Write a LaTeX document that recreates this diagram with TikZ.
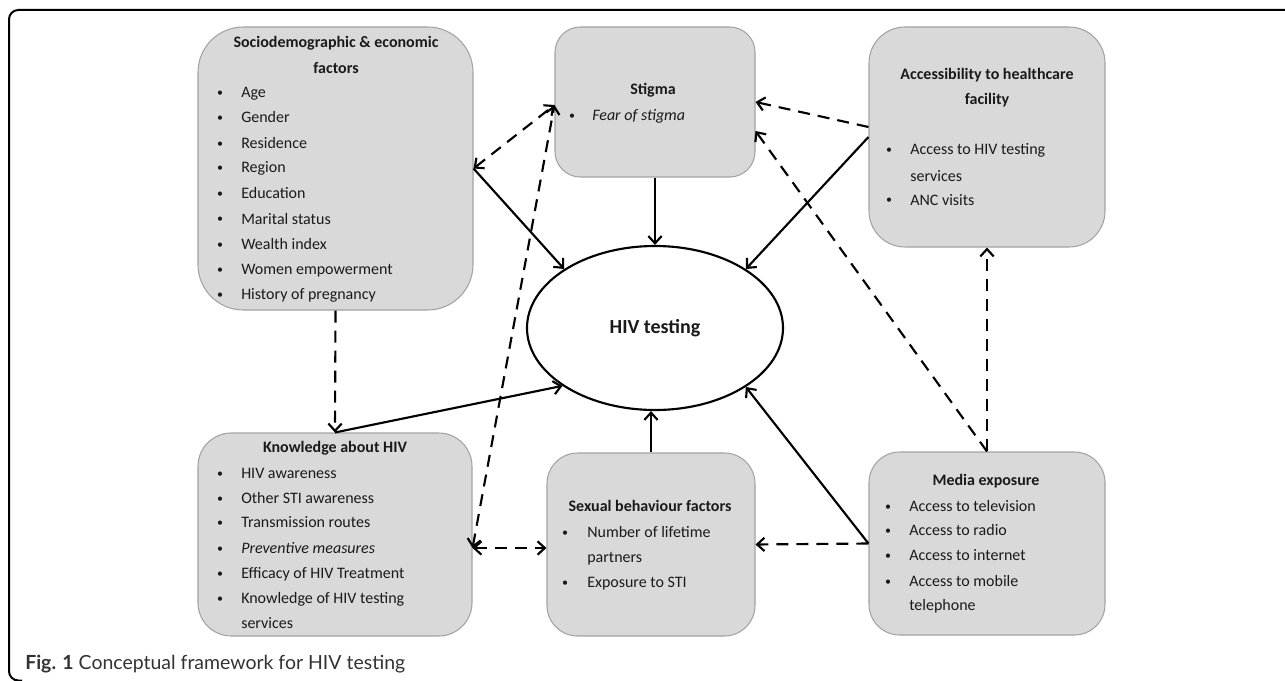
\documentclass[tikz,border=0pt]{standalone}
\usepackage{fontspec}
\setmainfont{Carlito}
\newfontfamily\capfont{Lato}
\usetikzlibrary{arrows.meta,calc,shapes.geometric}
\definecolor{boxfill}{HTML}{D9D9D9}
\definecolor{boxdraw}{HTML}{A3A3A3}
\definecolor{txt}{HTML}{1A1A1A}
\definecolor{capc}{HTML}{333333}
\begin{document}
\begin{tikzpicture}[x=0.75pt,y=-0.75pt,
  >={Straight Barb[length=5.5pt,width=10pt]},
  box/.style={draw=boxdraw, fill=boxfill, line width=0.8pt, inner sep=0pt},
  tx/.style={inner sep=0pt, anchor=base west, text=txt, font=\fontsize{12}{14}\selectfont},
  ttl/.style={inner sep=0pt, anchor=base, text=txt, font=\fontsize{12}{14}\selectfont\bfseries},
  bul/.style={inner sep=0pt, anchor=base, text=txt, font=\fontsize{9}{11}\selectfont},
  con/.style={line width=1.6pt, draw=black},
  sol/.style={con, ->},
  dsh/.style={con, dash pattern=on 9pt off 6pt}
]
\useasboundingbox (0,0) rectangle (1285,681);
% frame
\draw[line width=1.5pt, rounded corners=7pt] (1295,10) -- (9,10) -- (9,680.5) -- (22,680.5);

% boxes
\node[box, minimum width=206.25pt, minimum height=212.25pt, rounded corners=34pt] (socio) at (335.5,168.5) {};
\node[box, minimum width=150pt, minimum height=112.5pt, rounded corners=19pt] (stigma) at (655,102) {};
\node[box, minimum width=177pt, minimum height=165pt, rounded corners=27pt] (access) at (987,137) {};
\node[box, minimum width=205.5pt, minimum height=152.25pt, rounded corners=25pt] (knowledge) at (335,534.5) {};
\node[box, minimum width=156pt, minimum height=137.25pt, rounded corners=23pt] (sexual) at (651,544.5) {};
\node[box, minimum width=177pt, minimum height=137.25pt, rounded corners=23pt] (media) at (987,543.5) {};
\node[ellipse, draw=black, fill=white, line width=1.6pt, inner sep=0pt, minimum width=192pt, minimum height=123pt, text=txt, font=\fontsize{15}{18}\selectfont\bfseries] (hiv) at (655,328) {HIV testing};

% socio text
\node[ttl] (soT1) at (336,48) {Sociodemographic \& economic};
\node[ttl] (soT2) at (336,74) {factors};
\foreach \t/\y [count=\i] in {Age/98, Gender/123, Residence/149, Region/173, Education/199, Marital status/224, Wealth index/249, Women empowerment/274, History of pregnancy/299} {
  \node[bul] (sob\i) at (220,\y-1) {•};
  \node[tx] (so\i) at (241,\y) {\t};
}

% stigma text
\node[ttl] (stT) at (653,95) {Stigma};
\node[bul] (stb1) at (572,120) {•};
\node[tx] (st1) at (592,121) {\itshape Fear of stigma};

% access text
\node[ttl] (acT1) at (987,80) {Accessibility to healthcare};
\node[ttl] (acT2) at (987,105) {facility};
\node[bul] (acb1) at (889,154) {•};
\node[tx] (ac1) at (910,155) {Access to HIV testing};
\node[tx] (ac2) at (910,181) {services};
\node[bul] (acb3) at (889,204) {•};
\node[tx] (ac3) at (910,205) {ANC visits};

% knowledge text
\node[ttl] (knT) at (335,452) {Knowledge about HIV};
\foreach \t/\y [count=\i] in {HIV awareness/478, Other STI awareness/503, Transmission routes/527, {\itshape Preventive measures}/553, Efficacy of HIV Treatment/578, Knowledge of HIV testing/603} {
  \node[bul] (knb\i) at (220,\y-1) {•};
  \node[tx] (kn\i) at (241,\y) {\t};
}
\node[tx] (kn7) at (241,628) {services};

% sexual text
\node[ttl] (seT) at (650,511) {Sexual behaviour factors};
\node[bul] (seb1) at (565,536) {•};
\node[tx] (se1) at (587,537) {Number of lifetime};
\node[tx] (se2) at (587,562) {partners};
\node[bul] (seb3) at (565,586) {•};
\node[tx] (se3) at (587,587) {Exposure to STI};

% media text
\node[ttl] (meT) at (986,485) {Media exposure};
\foreach \t/\y [count=\i] in {Access to television/511, Access to radio/535, Access to internet/560, Access to mobile/586} {
  \node[bul] (meb\i) at (888,\y-1) {•};
  \node[tx] (me\i) at (909,\y) {\t};
}
\node[tx] (me5) at (909,610) {telephone};

% caption
\node[anchor=base west, inner sep=0pt, text=capc, font=\capfont\fontsize{14.6}{17}\selectfont] (cap) at (25,669) {\textbf{Fig. 1} Conceptual framework for HIV testing};

% connector points
\coordinate (sgw) at ($(stigma.west)+(0,3)$);
\coordinate (sge) at ($(stigma.east)+(0,29)$);
\coordinate (kE) at ($(knowledge.east)+(0,13.5)$);
\coordinate (acw) at ($(access.west)+(0,-10)$);

% connectors
\draw[sol] (socio.east) -- (hiv.147);
\draw[dsh,<->] (socio.east) -- (sgw);
\draw[dsh,<->] (kE) -- (sgw);
\draw[dsh,<->] (kE) -- (kE -| sexual.west);
\draw[sol] (stigma.south) -- (hiv.north);
\draw[sol] (access.west) -- (hiv.33);
\draw[dsh,->] (acw) -- (stigma.east);
\draw[dsh,->] (media.north) -- (sge);
\draw[dsh,->] (media.north) -- (access.south);
\draw[sol] (media.west) -- (hiv.-33);
\draw[dsh,->] (media.west) -- (sexual.east);
\draw[sol] (sexual.north) -- (sexual.north |- hiv.south);
\draw[dsh,->] (socio.south) -- (knowledge.north);
\draw[sol] (knowledge.north) -- (hiv.212);
\end{tikzpicture}
\end{document}
